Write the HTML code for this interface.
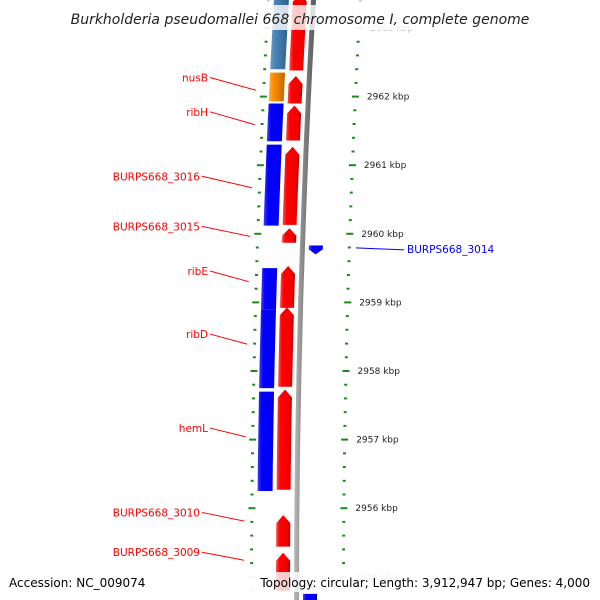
<!DOCTYPE html>
<html><head><meta charset="utf-8"><style>
html,body{margin:0;padding:0;background:#fff}
svg{display:block}
</style></head><body>
<svg id="map" width="600" height="600" viewBox="0 0 600 600" xmlns="http://www.w3.org/2000/svg">
<defs>
<linearGradient id="gRed" x1="0" x2="1" y1="0" y2="0"><stop offset="0" stop-color="#ff5050"/><stop offset="0.25" stop-color="#ff0000"/><stop offset="0.8" stop-color="#f00000"/><stop offset="1" stop-color="#b00000"/></linearGradient>
<linearGradient id="gBlue" x1="0" x2="1" y1="0" y2="0"><stop offset="0" stop-color="#4040ff"/><stop offset="0.25" stop-color="#0000ff"/><stop offset="0.85" stop-color="#0000f0"/><stop offset="1" stop-color="#0000a0"/></linearGradient>
<linearGradient id="gSteel" x1="0" x2="1" y1="0" y2="0"><stop offset="0" stop-color="#6a9cc8"/><stop offset="0.3" stop-color="#4682b4"/><stop offset="1" stop-color="#2f5f88"/></linearGradient>
<linearGradient id="gOrange" x1="0" x2="1" y1="0" y2="0"><stop offset="0" stop-color="#ffb040"/><stop offset="0.3" stop-color="#ff8c00"/><stop offset="1" stop-color="#c06800"/></linearGradient>
<linearGradient id="gGray" x1="0" x2="1" y1="0" y2="0"><stop offset="0" stop-color="#bbb"/><stop offset="0.4" stop-color="#888"/><stop offset="1" stop-color="#555"/></linearGradient>
</defs>
<g id="layer"></g>
<rect x="70" y="5" width="460" height="25" fill="#fff" fill-opacity="0.8"/>
<text x="300" y="24" text-anchor="middle" font-family="'DejaVu Sans','Liberation Sans',sans-serif" font-size="14" font-style="italic" fill="#222">Burkholderia pseudomallei 668 chromosome I, complete genome</text>
<rect x="0" y="572" width="600" height="20" fill="#fff" fill-opacity="0.8"/>
<text x="9" y="587" font-family="'DejaVu Sans','Liberation Sans',sans-serif" font-size="12" fill="#000">Accession: NC_009074</text>
<text x="590" y="587" text-anchor="end" font-family="'DejaVu Sans','Liberation Sans',sans-serif" font-size="12" fill="#000">Topology: circular; Length: 3,912,947 bp; Genes: 4,000</text>
</svg>
<script>
// Data (kbp)
const majorTicks = [2963, 2962, 2961, 2960, 2959, 2958, 2957, 2956, 2955];
const featStarts = [2963.5, 2962.35, 2961.9, 2961.3, 2959.5, 2958.9, 2957.7];
const featEnds   = [2962.4, 2961.93, 2961.35, 2960.12, 2958.9, 2957.75, 2956.25];
const featKinds  = ['steel','orange','blue','blue','blue','blue','blue'];
const cdsStarts = [2963.5, 2962.3, 2961.87, 2961.27, 2960.08, 2959.53, 2958.93, 2957.73, 2955.9, 2955.35];
const cdsEnds   = [2962.38, 2961.9, 2961.36, 2960.13, 2959.87, 2958.92, 2957.77, 2956.27, 2955.44, 2954.8];
const leftLabels = ['nusB','ribH','BURPS668_3016','BURPS668_3015','ribE','ribD','hemL','BURPS668_3010','BURPS668_3009'];
const leftLabelPos = [2962.22, 2961.72, 2960.78, 2960.05, 2959.4, 2958.48, 2957.11, 2955.88, 2955.3];
const leftGenePos = [2962.15, 2961.65, 2960.73, 2960.02, 2959.36, 2958.45, 2957.1, 2955.87, 2955.3];
const rightLabels = ['BURPS668_3014'];
const rightLabelPos = [2959.78];
const revStarts = [2959.83, 2954.75];
const revEnds = [2959.7, 2954.3];

const PX = 68.6, K0 = 2963, Y0 = 28;
function yOf(k){ return Y0 + (K0 - k) * PX; }
function off(y){ return 4.7e-5 * (y - 600) * (y - 600); }
const NS = 'http://www.w3.org/2000/svg';
const layer = document.getElementById('layer');
function el(tag, attrs){ const e = document.createElementNS(NS, tag); for (const k in attrs) e.setAttribute(k, attrs[k]); layer.appendChild(e); return e; }
function band(x0, w, y1, y2, head){
  const pts = [];
  const yt = Math.min(y1, y2), yb = Math.max(y1, y2);
  const steps = 8;
  if (head === 'up') {
    const h = Math.min(8, (yb - yt) * 0.5);
    pts.push([x0 + w/2 + off(yt), yt]);
    for (let i = 0; i <= steps; i++) { const y = yt + h + (yb - yt - h) * i / steps; pts.push([x0 + w + off(y), y]); }
    for (let i = steps; i >= 0; i--) { const y = yt + h + (yb - yt - h) * i / steps; pts.push([x0 + off(y), y]); }
  } else if (head === 'down') {
    const h = Math.min(5, (yb - yt) * 0.6);
    for (let i = 0; i <= steps; i++) { const y = yt + (yb - yt - h) * i / steps; pts.push([x0 + w + off(y), y]); }
    pts.push([x0 + w/2 + off(yb), yb]);
    for (let i = steps; i >= 0; i--) { const y = yt + (yb - yt - h) * i / steps; pts.push([x0 + off(y), y]); }
  } else {
    for (let i = 0; i <= steps; i++) { const y = yt + (yb - yt) * i / steps; pts.push([x0 + w + off(y), y]); }
    for (let i = steps; i >= 0; i--) { const y = yt + (yb - yt) * i / steps; pts.push([x0 + off(y), y]); }
  }
  return pts.map(p => p[0].toFixed(1) + ',' + p[1].toFixed(1)).join(' ');
}
// backbone
const bb = el('polygon', {points: band(294, 5, -5, 605, null), fill: 'url(#gGray)'});


// feature track
const fillMap = {steel: 'url(#gSteel)', orange: 'url(#gOrange)', blue: 'url(#gBlue)'};
featStarts.forEach((s, i) => {
  const p = el('polygon', {points: band(257, 15, yOf(s), yOf(featEnds[i]), null), fill: fillMap[featKinds[i]]});
  
  
});
// CDS forward
cdsStarts.forEach((s, i) => {
  const p = el('polygon', {points: band(276, 14, yOf(s), yOf(cdsEnds[i]), 'up'), fill: 'url(#gRed)'});
  
  
});
// reverse CDS
revStarts.forEach((s, i) => {
  const p = el('polygon', {points: band(303, 14, yOf(s), yOf(revEnds[i]), i === 0 ? 'down' : null), fill: 'url(#gBlue)'});
  
  
});
// ticks
for (let m = 0; m < majorTicks.length; m++) {
  for (let j = -2; j < 5; j++) {
    const k = majorTicks[m] - j * 0.2;
    if (j < 0 && m > 0) continue;
    const y = yOf(k);
    if (y < -5 || y > 605) continue;
    const major = j === 0;
    const len = major ? 7 : 3;
    const fade = (y < 35 || y > 570) ? 0.3 : 1;
    const xr = 340 + off(y), xl = 248 + off(y) + (major ? 0 : 2);
    const t1 = el('rect', {x: (xr + (major ? 0 : 2)).toFixed(1), y: (y - 1).toFixed(1), width: len, height: 2, fill: '#1a8a1a', 'fill-opacity': fade});
    
    
    const t2 = el('rect', {x: xl.toFixed(1), y: (y - 1).toFixed(1), width: len, height: 2, fill: '#1a8a1a', 'fill-opacity': fade});
    
    
    if (major) {
      const t = el('text', {x: (xr + 15).toFixed(1), y: (y + 3).toFixed(1), 'font-family': "'DejaVu Sans','Liberation Sans',sans-serif", 'font-size': 9, fill: '#222', 'fill-opacity': fade});
      t.textContent = majorTicks[m] + ' kbp';
      
      
    }
  }
}
// left labels
leftLabels.forEach((name, i) => {
  const yl = yOf(leftLabelPos[i]), yg = yOf(leftGenePos[i]) + 4;
  const l = el('line', {x1: 198 + (name.length > 5 ? 4 : 12), y1: yl - 4, x2: 252 + off(yg) - 8, y2: yg, stroke: '#f00', 'stroke-width': 1});
  
  
  const t = el('text', {x: name.length > 5 ? 200 : 208, y: yl, 'text-anchor': 'end', 'font-family': "'DejaVu Sans','Liberation Sans',sans-serif", 'font-size': 10.5, fill: '#f00'});
  t.textContent = name;
  
  
});
rightLabels.forEach((name, i) => {
  const y = yOf(rightLabelPos[i]);
  const l = el('line', {x1: 356, y1: y - 1, x2: 404, y2: y + 1, stroke: '#00f', 'stroke-width': 1});
  
  
  const t = el('text', {x: 407, y: y + 4, 'font-family': "'DejaVu Sans','Liberation Sans',sans-serif", 'font-size': 10.5, fill: '#00f'});
  t.textContent = name;
  
  
});
</script>
</body></html>
